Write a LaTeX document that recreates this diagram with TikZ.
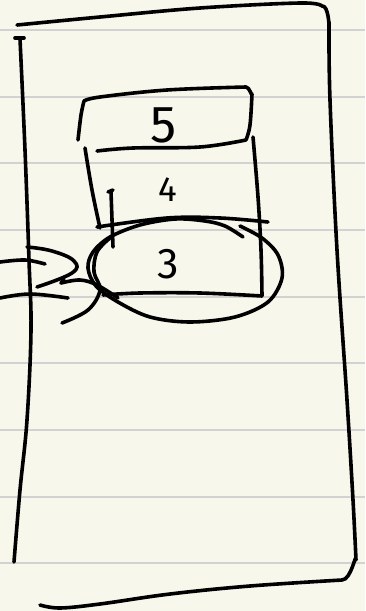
\documentclass[tikz,border=0pt]{standalone}
\usepackage{fontspec}
\setmainfont{Fira Sans}
\usepackage{tikz}
\usetikzlibrary{positioning}
\definecolor{paper}{HTML}{F8F7EC}
\definecolor{ruling}{HTML}{D2D2D2}

\begin{document}
\begin{tikzpicture}[
        x=1pt, y=-1pt,
        hand/.style={line width=3.6pt, line cap=round, line join=round, black},
        ruleline/.style={line width=2pt, ruling},
        digit/.style={inner sep=0pt, font=\fontsize{#1}{#1}\selectfont},
    ]
        \useasboundingbox[fill=paper] (0,0) rectangle (365,611);
        % ruled paper
        \foreach \y in {30,96.7,163.3,230,296.7,363.3,430,496.7,563.3}
            \draw[ruleline] (0,\y) -- (365,\y);

        % outer frame
        \draw[hand] plot[smooth, tension=0.6] coordinates {(17,25) (100,17) (200,8) (300,3) (322,6)}
            to[out=10, in=-90] (329,22)
            plot[smooth, tension=0.6] coordinates {(329,22) (330,100) (337,250) (347,400) (353,500) (356,560)}
            to[out=90, in=0] (342,580)
            plot[smooth, tension=0.6] coordinates {(342,580) (250,586) (170,594) (100,604) (60,608) (40,605)};
        \draw[hand] (15,38) -- (24,38);
        \draw[hand] plot[smooth, tension=0.6] coordinates {(20,39) (25,150) (29,260) (31,330) (27,420) (20,490) (14,562)};

        % stack
        \draw[hand] plot[smooth, tension=0.6] coordinates {(78,140) (81,115) (84,101)}
            plot[smooth, tension=0.6] coordinates {(84,101) (100,97) (167,90) (246,87)}
            to[out=0, in=-90] (252,94)
            plot[smooth, tension=0.6] coordinates {(252,94) (250,125) (246,140)}
            plot[smooth, tension=0.6] coordinates {(246,140) (200,147) (133,148) (97,151)};
        \draw[hand] plot[smooth, tension=0.6] coordinates {(85,148) (92,190) (100,228)};
        \draw[hand] plot[smooth, tension=0.6] coordinates {(253,137) (258,197) (261,250) (262,296)}
            plot[smooth, tension=0.6] coordinates {(262,296) (200,293) (140,293) (103,295)};
        \draw[hand] plot[smooth, tension=0.6] coordinates {(97,227) (167,218) (220,218) (268,222)};
        \draw[hand] (108,192) -- (113,190) (111,192) -- (113,247);

        \node[digit=52] (five) at (164,125) {5};
        \node[digit=35] (four) at (168,190) {4};
        \node[digit=43] (three) at (168,264) {3};

        % circle round 3
        \draw[hand] plot[smooth, tension=0.55] coordinates {(243,237) (225,226) (205,221) (175,219) (140,225) (110,237) (93,252) (88,268) (96,286) (118,302) (150,317) (190,322) (235,317) (268,302) (282,278) (278,255) (262,238) (240,226)};
        \draw[hand] plot[smooth, tension=0.6] coordinates {(62,323) (88,310) (100,290) (94,272) (97,252) (110,238)};

        % arrows in from the left
        \coordinate (in1) at (0,262);
        \coordinate (in2) at (0,298);
        \draw[hand] plot[smooth, tension=0.6] coordinates {(in1) (25,260) (45,264)};
        \draw[hand] plot[smooth, tension=0.6] coordinates {(in2) (30,294) (68,298)};
        \draw[hand] plot[smooth, tension=0.7] coordinates {(27,247) (52,251) (74,261) (72,273) (37,287)};
        \draw[hand] plot[smooth, tension=0.6] coordinates {(118,298) (97,285) (80,280) (61,283)};
        \draw[hand] (61,283) -- (64,279);
    \end{tikzpicture}
\end{document}
